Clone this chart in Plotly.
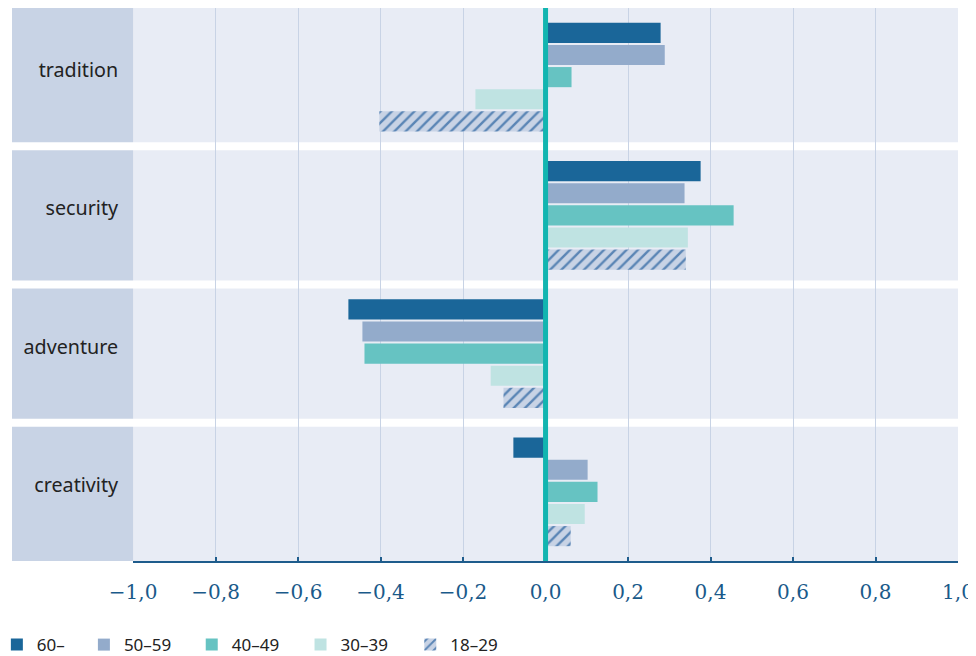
import plotly.graph_objects as go

categories = ["tradition", "security", "adventure", "creativity"]
groups = ["60–", "50–59", "40–49", "30–39", "18–29"]
values = {
    "60–":   [0.279, 0.376, -0.478, -0.078],
    "50–59": [0.289, 0.337, -0.444, 0.102],
    "40–49": [0.063, 0.456, -0.439, 0.126],
    "30–39": [-0.170, 0.345, -0.133, 0.095],
    "18–29": [-0.403, 0.340, -0.102, 0.061],
}
colors = {
    "60–": "#1a6699",
    "50–59": "#93abcb",
    "40–49": "#66c3c2",
    "30–39": "#bfe3e2",
    "18–29": "#c8d3e5",
}
x_ticks = [-1.0, -0.8, -0.6, -0.4, -0.2, 0.0, 0.2, 0.4, 0.6, 0.8, 1.0]
legend_x = [-0.016, 0.076, 0.190, 0.305, 0.421]

fig = go.Figure()
legend_names = ["legend", "legend2", "legend3", "legend4", "legend5"]
for i, g in enumerate(groups):
    marker = dict(color=colors[g], line=dict(width=0))
    if g == "18–29":
        marker["pattern"] = dict(shape="/", bgcolor="#c8d3e5", fgcolor="#5a85b5",
                                 size=8, solidity=0.3, fillmode="replace")
    fig.add_trace(go.Bar(y=categories, x=values[g], name=g, orientation="h",
                         marker=marker, legend=legend_names[i]))

DOM0 = 0.128
shapes = [
    dict(type="rect", xref="paper", yref="paper", x0=0, x1=DOM0, y0=0, y1=1,
         fillcolor="#c8d3e5", line=dict(width=0), layer="below"),
]
for b in [0.5, 1.5, 2.5]:
    shapes.append(dict(type="line", xref="paper", yref="y", x0=0, x1=1, y0=b, y1=b,
                       line=dict(color="white", width=8), layer="below"))
shapes.append(dict(type="line", xref="x", yref="paper", x0=0, x1=0, y0=0, y1=1,
                   line=dict(color="#12b5b0", width=5), layer="above"))

legend_style = dict(orientation="h", xanchor="left", y=-0.152, yanchor="middle",
                    font=dict(family="Noto Sans", size=17, color="#222222"),
                    itemwidth=30, borderwidth=0, bgcolor="rgba(0,0,0,0)")

layout_legends = {}
for name, lx in zip(legend_names, legend_x):
    layout_legends[name] = dict(legend_style, x=lx)

fig.update_layout(
    width=968, height=648,
    margin=dict(l=4, r=18, t=0, b=95, autoexpand=False),
    paper_bgcolor="white",
    plot_bgcolor="#e8ecf5",
    barmode="group",
    bargap=0.2,
    bargroupgap=0.09,
    separators=", ",
    shapes=shapes,
    showlegend=True,
    font=dict(family="Noto Sans", color="#222222"),
    **layout_legends,
)
fig.update_xaxes(
    domain=[DOM0, 1], range=[-1, 1], tickvals=x_ticks, tickformat=".1f",
    showgrid=True, gridcolor="#c8d3e5", gridwidth=1,
    zeroline=False, automargin=False,
    showline=True, linecolor="#1e5c8c", linewidth=2,
    ticks="inside", ticklen=4, tickcolor="#1e5c8c", tickwidth=2,
    tickfont=dict(family="DejaVu Serif", size=20, color="#1a5a8a"),
    ticklabelstandoff=12,
)
fig.update_yaxes(
    categoryorder="array", categoryarray=categories, autorange="reversed",
    showgrid=False, zeroline=False, showline=False, ticks="", automargin=False,
    tickfont=dict(family="Noto Sans", size=19.7, color="#222222"),
    ticklabelstandoff=14, ticklabelshift=7,
)

fig.write_html("out.html")
